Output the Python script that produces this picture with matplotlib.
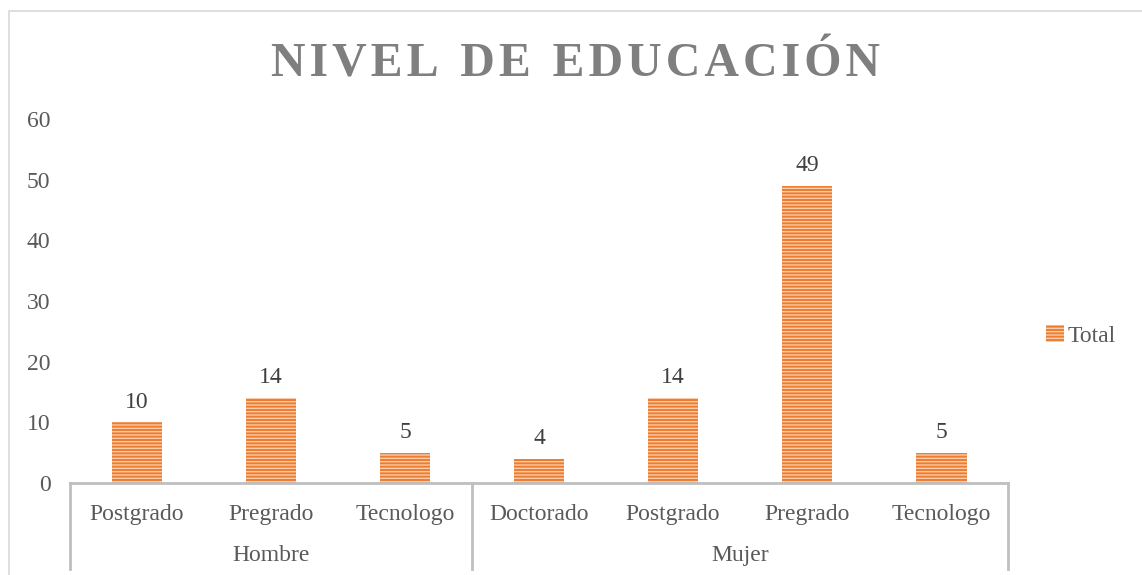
import numpy as np
import matplotlib.pyplot as plt
import matplotlib.transforms as mtransforms
from matplotlib.patches import Rectangle, Patch

# Datos
grupos = ['Hombre', 'Mujer']
categorias = ['Postgrado', 'Pregrado', 'Tecnologo',
              'Doctorado', 'Postgrado', 'Pregrado', 'Tecnologo']
grupo_de_cat = [0, 0, 0, 1, 1, 1, 1]
valores = [10, 14, 5, 4, 14, 49, 5]

plt.rcParams['font.family'] = ['Liberation Serif', 'DejaVu Serif']
plt.rcParams['hatch.linewidth'] = 1.0

naranja = '#ED7D31'
claro = '#F9CBA8'
gris_txt = '#595959'
gris_lin = '#BFBFBF'
fs = 17

fig = plt.figure(figsize=(11.42, 5.75), dpi=100)
ax = fig.add_axes([0.0613, 0.16, 0.8214, 0.633])

x = np.arange(len(categorias))
barras = ax.bar(x, valores, width=0.38, color=naranja, edgecolor=claro,
                linewidth=0, hatch='-----')

for xi, v in zip(x, valores):
    ax.text(xi, v + 1.6, str(v), ha='center', va='bottom',
            fontsize=fs, color='#404040')

ax.set_xlim(-0.5, len(categorias) - 0.5)
ax.set_ylim(0, 60)
ax.set_yticks(range(0, 61, 10))
ax.tick_params(axis='y', length=0, labelsize=fs, labelcolor=gris_txt, pad=14)
ax.set_xticks(x)
ax.set_xticklabels(categorias)
ax.tick_params(axis='x', length=0, labelsize=fs, labelcolor=gris_txt, pad=15)

for s in ['top', 'right', 'left']:
    ax.spines[s].set_visible(False)
ax.spines['bottom'].set_color(gris_lin)
ax.spines['bottom'].set_linewidth(2)

# separadores de grupo y etiquetas de grupo
trans = mtransforms.blended_transform_factory(ax.transData, ax.transAxes)
limites = [-0.5]
for g in range(len(grupos)):
    idx = [i for i, gc in enumerate(grupo_de_cat) if gc == g]
    limites.append(idx[-1] + 0.5)
    centro = (idx[0] + idx[-1]) / 2
    ax.text(centro, -0.2, grupos[g], transform=trans, ha='center', va='center',
            fontsize=fs, color=gris_txt)
for lim in limites:
    ax.plot([lim, lim], [0, -0.235], transform=trans, color=gris_lin,
            linewidth=2, clip_on=False)

# titulo
fig.text(0.504, 0.887, 'N\u200aI\u200aV\u200aE\u200aL\u2009 D\u200aE\u2009 E\u200aD\u200aU\u200aC\u200aA\u200aC\u200aI\u200aÓ\u200aN',
         ha='center', va='center', fontsize=34.5, fontweight='bold', color='#7F7F7F')

# leyenda
ax.legend(handles=[Patch(facecolor=naranja, edgecolor=claro, linewidth=0, hatch='-----')],
          labels=['Total'], loc='center left', bbox_to_anchor=(1.018, 0.405),
          frameon=False, fontsize=fs, handlelength=0.75, handleheight=0.75,
          handletextpad=0.15, labelcolor=gris_txt)

# marco exterior
fig.patches.append(Rectangle((9 / 1142, -0.01), 1.0, 1 - 11 / 575 + 0.01,
                             transform=fig.transFigure, fill=False,
                             edgecolor='#D9D9D9', linewidth=1.2))

fig.savefig('out.png', dpi=100, facecolor='white')
